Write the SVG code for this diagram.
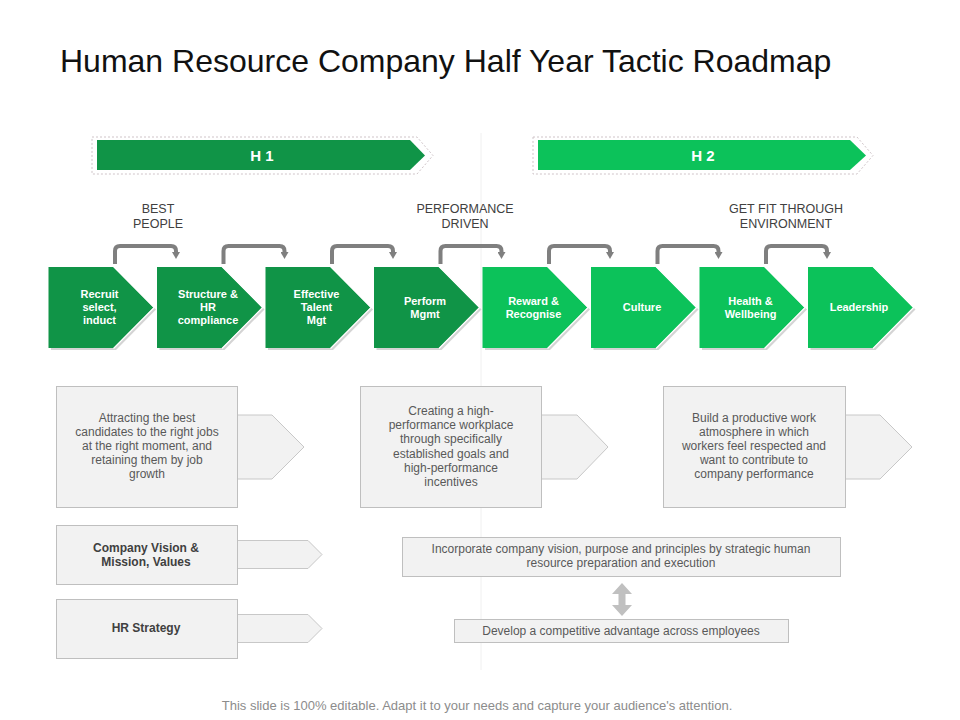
<svg xmlns="http://www.w3.org/2000/svg" width="960" height="720" viewBox="0 0 960 720">
<defs>
<style>
.title{font-family:"Liberation Sans",Arial,sans-serif;font-size:32px;fill:#111111}
.band{font-family:"Liberation Sans",Arial,sans-serif;font-size:15px;font-weight:bold;fill:#ffffff;text-anchor:middle}
.grp{font-family:"Liberation Sans",Arial,sans-serif;font-size:12.5px;fill:#404040;text-anchor:middle}
.chv{font-family:"Liberation Sans",Arial,sans-serif;font-size:11px;font-weight:bold;fill:#ffffff;text-anchor:middle}
.desc{font-family:"Liberation Sans",Arial,sans-serif;font-size:12px;fill:#595959;text-anchor:middle}
.bold{font-family:"Liberation Sans",Arial,sans-serif;font-size:12px;font-weight:bold;fill:#404040;text-anchor:middle}
.foot{font-family:"Liberation Sans",Arial,sans-serif;font-size:13px;fill:#8c8c8c;text-anchor:middle}
.dark{fill:#109447}
.light{fill:#0cc25a}
.edge{fill:none;stroke:#ffffff;stroke-width:1.2}
.shadow{fill:#d4d4d4}
.box{fill:#f2f2f2;stroke:#bfbfbf;stroke-width:1}
.arr{fill:#f2f2f2;stroke:#c8c8c8;stroke-width:1}
.conn{fill:none;stroke:#7f7f7f;stroke-width:4}
.dash{fill:none;stroke:#cfc4c8;stroke-width:1;stroke-dasharray:2 2}
</style>
<marker id="ah" markerUnits="userSpaceOnUse" markerWidth="10" markerHeight="8" refX="0" refY="4" orient="auto">
<path d="M0,0 L7,4 L0,8 Z" fill="#7f7f7f"/>
</marker>
<polygon id="chev" points="0,0 65,0 105,40.5 65,81 0,81"/>
</defs>
<rect width="960" height="720" fill="#ffffff"/>
<line x1="481" y1="133" x2="481" y2="670" stroke="#f0f0f0" stroke-width="1"/>
<text class="title" x="60" y="72">Human Resource Company Half Year Tactic Roadmap</text>

<g id="h1">
<polygon class="dash" points="92,137 417,137 433,155.5 417,174 92,174"/>
<polygon class="dark" points="97,140 410,140 425,155.5 410,170 97,170"/>
<text class="band" x="262" y="161">H 1</text>
</g>
<g id="h2">
<polygon class="dash" points="533,137 857,137 873,155.5 857,174 533,174"/>
<polygon class="light" points="538,140 850,140 866,155.5 850,170 538,170"/>
<text class="band" x="703" y="161">H 2</text>
</g>

<g id="labels">
<text class="grp" x="158" y="213">BEST</text>
<text class="grp" x="158" y="228">PEOPLE</text>
<text class="grp" x="465" y="213">PERFORMANCE</text>
<text class="grp" x="465" y="228">DRIVEN</text>
<text class="grp" x="786" y="213">GET FIT THROUGH</text>
<text class="grp" x="786" y="228">ENVIRONMENT</text>
</g>

<g id="connectors">
<path class="conn" marker-end="url(#ah)" d="M115,264 V251 Q115,246 120,246 H171 Q176,246 176,251 V252"/>
<path class="conn" marker-end="url(#ah)" d="M223.5,264 V251 Q223.5,246 228.5,246 H279.5 Q284.5,246 284.5,251 V252"/>
<path class="conn" marker-end="url(#ah)" d="M332,264 V251 Q332,246 337,246 H388 Q393,246 393,251 V252"/>
<path class="conn" marker-end="url(#ah)" d="M440.5,264 V251 Q440.5,246 445.5,246 H496.5 Q501.5,246 501.5,251 V252"/>
<path class="conn" marker-end="url(#ah)" d="M549,264 V251 Q549,246 554,246 H605 Q610,246 610,251 V252"/>
<path class="conn" marker-end="url(#ah)" d="M657.5,264 V251 Q657.5,246 662.5,246 H713.5 Q718.5,246 718.5,251 V252"/>
<path class="conn" marker-end="url(#ah)" d="M766,264 V251 Q766,246 771,246 H822 Q827,246 827,251 V252"/>
</g>

<g id="c1" transform="translate(48.5,267)">
<use href="#chev" class="shadow" x="2.5" y="2"/><use href="#chev" class="dark"/><polyline class="edge" points="65,-0.5 105.7,40.5 65,81.5"/>
<text class="chv" x="51" y="31">Recruit</text><text class="chv" x="51" y="44">select,</text><text class="chv" x="51" y="57">induct</text>
</g>
<g id="c2" transform="translate(157,267)">
<use href="#chev" class="shadow" x="2.5" y="2"/><use href="#chev" class="dark"/><polyline class="edge" points="65,-0.5 105.7,40.5 65,81.5"/>
<text class="chv" x="51" y="31">Structure &amp;</text><text class="chv" x="51" y="44">HR</text><text class="chv" x="51" y="57">compliance</text>
</g>
<g id="c3" transform="translate(265.5,267)">
<use href="#chev" class="shadow" x="2.5" y="2"/><use href="#chev" class="dark"/><polyline class="edge" points="65,-0.5 105.7,40.5 65,81.5"/>
<text class="chv" x="51" y="31">Effective</text><text class="chv" x="51" y="44">Talent</text><text class="chv" x="51" y="57">Mgt</text>
</g>
<g id="c4" transform="translate(374,267)">
<use href="#chev" class="shadow" x="2.5" y="2"/><use href="#chev" class="dark"/><polyline class="edge" points="65,-0.5 105.7,40.5 65,81.5"/>
<text class="chv" x="51" y="38">Perform</text><text class="chv" x="51" y="51">Mgmt</text>
</g>
<g id="c5" transform="translate(482.5,267)">
<use href="#chev" class="shadow" x="2.5" y="2"/><use href="#chev" class="light"/><polyline class="edge" points="65,-0.5 105.7,40.5 65,81.5"/>
<text class="chv" x="51" y="38">Reward &amp;</text><text class="chv" x="51" y="51">Recognise</text>
</g>
<g id="c6" transform="translate(591,267)">
<use href="#chev" class="shadow" x="2.5" y="2"/><use href="#chev" class="light"/><polyline class="edge" points="65,-0.5 105.7,40.5 65,81.5"/>
<text class="chv" x="51" y="44">Culture</text>
</g>
<g id="c7" transform="translate(699.5,267)">
<use href="#chev" class="shadow" x="2.5" y="2"/><use href="#chev" class="light"/><polyline class="edge" points="65,-0.5 105.7,40.5 65,81.5"/>
<text class="chv" x="51" y="38">Health &amp;</text><text class="chv" x="51" y="51">Wellbeing</text>
</g>
<g id="c8" transform="translate(808,267)">
<use href="#chev" class="shadow" x="2.5" y="2"/><use href="#chev" class="light"/><polyline class="edge" points="65,-0.5 105.7,40.5 65,81.5"/>
<text class="chv" x="51" y="44">Leadership</text>
</g>

<g id="d1">
<polygon class="arr" points="230,415 272,415 304,447 272,479 230,479"/>
<rect class="box" x="56.5" y="386.5" width="181" height="121"/>
<text class="desc" x="147" y="422">Attracting the best</text>
<text class="desc" x="147" y="436">candidates to the right jobs</text>
<text class="desc" x="147" y="450">at the right moment, and</text>
<text class="desc" x="147" y="464">retaining them by job</text>
<text class="desc" x="147" y="478">growth</text>
</g>
<g id="d2">
<polygon class="arr" points="535,415 577,415 608,447 577,479 535,479"/>
<rect class="box" x="360.5" y="386.5" width="181" height="121"/>
<text class="desc" x="451" y="415">Creating a high-</text>
<text class="desc" x="451" y="429">performance workplace</text>
<text class="desc" x="451" y="443">through specifically</text>
<text class="desc" x="451" y="458">established goals and</text>
<text class="desc" x="451" y="472">high-performance</text>
<text class="desc" x="451" y="486">incentives</text>
</g>
<g id="d3">
<polygon class="arr" points="838,415 880,415 912,447 880,479 838,479"/>
<rect class="box" x="663.5" y="386.5" width="182" height="121"/>
<text class="desc" x="754" y="422">Build a productive work</text>
<text class="desc" x="754" y="436">atmosphere in which</text>
<text class="desc" x="754" y="450">workers feel respected and</text>
<text class="desc" x="754" y="464">want to contribute to</text>
<text class="desc" x="754" y="478">company performance</text>
</g>
<g id="d4">
<polygon class="arr" points="230,540.5 308,540.5 322,554.5 308,568.5 230,568.5"/>
<rect class="box" x="56.5" y="525.5" width="181" height="59"/>
<text class="bold" x="146" y="552">Company Vision &amp;</text>
<text class="bold" x="146" y="566">Mission, Values</text>
</g>
<g id="d5">
<polygon class="arr" points="230,614.5 308,614.5 322,628.5 308,642.5 230,642.5"/>
<rect class="box" x="56.5" y="599.5" width="181" height="59"/>
<text class="bold" x="146" y="632">HR Strategy</text>
</g>
<g id="d6">
<rect class="box" x="402.5" y="537.5" width="438" height="39"/>
<text class="desc" x="621" y="553">Incorporate company vision, purpose and principles by strategic human</text>
<text class="desc" x="621" y="567">resource preparation and execution</text>
</g>
<g id="link">
<polygon fill="#c0c0c0" points="622,583 632,594 625.5,594 625.5,605 632,605 622,616 612,605 618.5,605 618.5,594 612,594"/>
</g>
<g id="d7">
<rect class="box" x="454.5" y="619.5" width="334" height="23"/>
<text class="desc" x="621" y="635">Develop a competitive advantage across employees</text>
</g>

<text class="foot" x="477" y="710">This slide is 100% editable. Adapt it to your needs and capture your audience's attention.</text>
</svg>
